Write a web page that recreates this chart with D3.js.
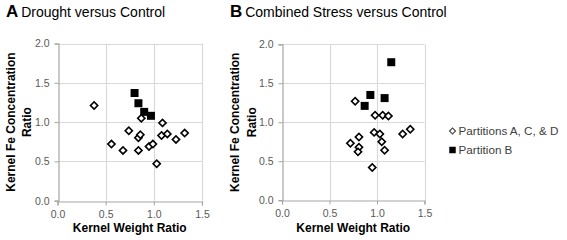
<!DOCTYPE html>
<html><head><meta charset="utf-8">
<script src="https://cdn.jsdelivr.net/npm/d3@7"></script>
<style>
html,body{margin:0;padding:0;background:#fff;}
text{font-family:Arial,"Liberation Sans",sans-serif;}
</style></head>
<body><svg id="c" width="567" height="240"></svg>
<script>
// Panel A: Drought versus Control
const droughtOtherX = [0.38,0.56,0.68,0.74,0.84,0.86,0.87,0.84,0.95,0.99,1.03,1.08,1.09,1.14,1.23,1.32];
const droughtOtherY = [1.21,0.72,0.64,0.89,0.80,0.84,1.05,0.64,0.69,0.72,0.47,0.83,0.99,0.85,0.78,0.86];
const droughtBX = [0.80,0.84,0.90,0.97];
const droughtBY = [1.37,1.24,1.13,1.08];
// Panel B: Combined Stress versus Control
const combinedOtherX = [0.77,0.98,1.06,1.12,0.97,1.03,1.27,1.35,0.81,0.72,0.81,0.80,1.05,1.08,0.95];
const combinedOtherY = [1.27,1.09,1.09,1.08,0.87,0.85,0.85,0.91,0.81,0.73,0.68,0.62,0.75,0.64,0.42];
const combinedBX = [1.15,0.93,1.08,0.87];
const combinedBY = [1.77,1.35,1.31,1.21];
const xTicks = [0.0,0.5,1.0,1.5];
const yTicks = [0.0,0.5,1.0,1.5,2.0];
const panelLetters = ["A","B"];
const panelTitles = ["Drought versus Control","Combined Stress versus Control"];
const seriesNames = ["Partitions A, C, & D","Partition B"];
const xTitle = "Kernel Weight Ratio";
const yTitleLines = ["Kernel Fe Concentration","Ratio"];

const svg = d3.select("#c");
const panels = [
  {letter:panelLetters[0], title:panelTitles[0], ox:droughtOtherX, oy:droughtOtherY, bx:droughtBX, by:droughtBY,
   x0:57.5, x1:202, y0:200.7, y1:43.5, lx:6},
  {letter:panelLetters[1], title:panelTitles[1], ox:combinedOtherX, oy:combinedOtherY, bx:combinedBX, by:combinedBY,
   x0:282, x1:424.5, y0:200.2, y1:44.3, lx:230}
];
const fmt = d3.format(".1f");

panels.forEach(p => {
  const x = d3.scaleLinear().domain([0,1.5]).range([p.x0,p.x1]);
  const y = d3.scaleLinear().domain([0,2]).range([p.y0,p.y1]);
  const g = svg.append("g");
  // gridlines
  g.selectAll(".gx").data(xTicks.slice(1)).enter().append("line")
    .attr("x1",d=>Math.round(x(d))+0.5).attr("x2",d=>Math.round(x(d))+0.5)
    .attr("y1",y(0)).attr("y2",y(2)).attr("stroke","#d9d9d9").attr("stroke-width",1.2);
  g.selectAll(".gy").data(yTicks.slice(1)).enter().append("line")
    .attr("y1",d=>Math.round(y(d))+0.5).attr("y2",d=>Math.round(y(d))+0.5)
    .attr("x1",x(0)).attr("x2",x(1.5)).attr("stroke","#d9d9d9").attr("stroke-width",1.2);
  // axes
  const ya = d3.axisLeft(y).tickValues(yTicks).tickSize(4).tickFormat(fmt);
  const xa = d3.axisBottom(x).tickValues(xTicks).tickSize(4).tickFormat(fmt);
  const gy = g.append("g").attr("transform",`translate(${Math.round(x(0))+0.5},0)`).call(ya);
  const gx = g.append("g").attr("transform",`translate(0,${Math.round(y(0))+0.5})`).call(xa);
  [gx,gy].forEach(a=>{
    a.select(".domain").attr("stroke","#a6a6a6").attr("stroke-width",1.2);
    a.selectAll(".tick line").attr("stroke","#a6a6a6");
    a.selectAll(".tick text").attr("fill","#595959").style("font-size","10.5px").attr("font-family","Arial, 'Liberation Sans', sans-serif");
  });
  gy.selectAll(".tick text").attr("x",-9);
  gx.selectAll(".tick text").attr("y",9);
  // titles
  const t = svg.append("text").attr("x",p.lx).attr("y",17);
  t.append("tspan").text(p.letter).style("font-weight","bold").style("font-size","17px");
  t.append("tspan").text(" "+p.title).style("font-size","14px").attr("dx",-1);
  svg.append("text").attr("x",(p.x0+p.x1)/2).attr("y",232).attr("text-anchor","middle")
    .style("font-weight","bold").style("font-size","12px").text(xTitle);
  const cy = (p.y0+p.y1)/2;
  yTitleLines.forEach((s,i)=>{
    const bx = p.x0-43+i*16.5;
    svg.append("text").attr("transform",`translate(${bx},${cy}) rotate(-90)`).attr("text-anchor","middle")
      .style("font-weight","bold").style("font-size","12px").text(s);
  });
  // markers
  const diamond = d3.symbol().type(d3.symbolSquare).size(26);
  g.selectAll(".d").data(p.ox.map((v,i)=>[v,p.oy[i]])).enter().append("path")
    .attr("d",diamond).attr("transform",d=>`translate(${x(d[0])},${y(d[1])}) rotate(45)`)
    .attr("fill","#fff").attr("stroke","#000").attr("stroke-width",1.6);
  const sq = d3.symbol().type(d3.symbolSquare).size(64);
  g.selectAll(".s").data(p.bx.map((v,i)=>[v,p.by[i]])).enter().append("path")
    .attr("d",sq).attr("transform",d=>`translate(${x(d[0])},${y(d[1])})`)
    .attr("fill","#000");
});

// legend
const lg = svg.append("g");
lg.append("path").attr("d",d3.symbol().type(d3.symbolSquare).size(18)())
  .attr("transform","translate(452.5,131) rotate(45)").attr("fill","#fff").attr("stroke","#404040").attr("stroke-width",1.1);
lg.append("path").attr("d",d3.symbol().type(d3.symbolSquare).size(42)())
  .attr("transform","translate(452.5,150)").attr("fill","#000");
seriesNames.forEach((s,i)=>{
  lg.append("text").attr("x",458.5).attr("y",135+i*19).style("font-size","11.7px").attr("fill","#404040").text(s);
});
</script></body></html>
